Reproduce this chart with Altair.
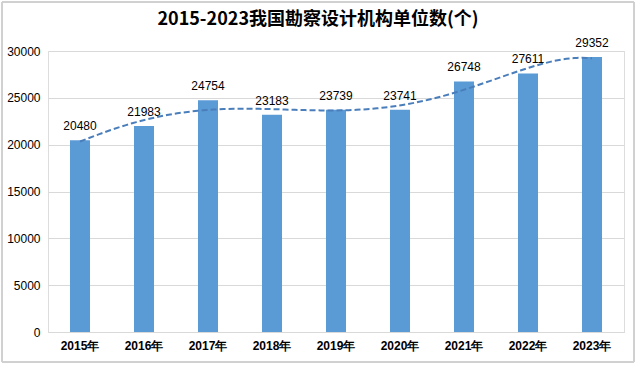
import altair as alt
import pandas as pd

years = [2015, 2016, 2017, 2018, 2019, 2020, 2021, 2022, 2023]
labels = ["2015年", "2016年", "2017年", "2018年", "2019年", "2020年", "2021年", "2022年", "2023年"]
values = [20480, 21983, 24754, 23183, 23739, 23741, 26748, 27611, 29352]

df = pd.DataFrame({"year": years, "label": labels, "value": values})

FONT = "Liberation Sans"
W, H = 576, 281
YSCALE = alt.Scale(domain=[0, 30000], nice=False)

xb = alt.X("label:N", sort=labels, title=None,
           scale=alt.Scale(paddingInner=0.69, paddingOuter=0.345),
           axis=alt.Axis(labelAngle=0, domain=True, domainColor="#D9D9D9", ticks=False,
                         labelFont=FONT, labelFontSize=12, labelFontWeight="bold",
                         labelColor="#000000", labelPadding=8))
y = alt.Y("value:Q", title=None, scale=YSCALE,
          axis=alt.Axis(values=[0, 5000, 10000, 15000, 20000, 25000, 30000], format="d",
                        domain=False, ticks=False, grid=True, gridColor="#D9D9D9",
                        labelFont=FONT, labelFontSize=12, labelColor="#000000",
                        labelPadding=8))

bars = alt.Chart(df).mark_bar(color="#5B9BD5", size=20).encode(x=xb, y=y)
text = alt.Chart(df).mark_text(baseline="bottom", dy=-7, font=FONT, fontSize=12,
                               color="#000000").encode(
    x=alt.X("label:N", sort=labels), y=alt.Y("value:Q", scale=YSCALE), text="value:Q")

border = alt.Chart(df).mark_rect(fill=None, stroke="#D0D0D0", strokeWidth=1).encode(
    x=alt.value(-46), x2=alt.value(W + 10), y=alt.value(-49), y2=alt.value(H + 30))

base = alt.layer(bars, text, border)

trend = alt.Chart(df).transform_regression(
    "year", "value", method="poly", order=5, extent=[2015, 2023]
).mark_line(color="#4A7EBB", strokeWidth=2, strokeDash=[6, 3]).encode(
    x=alt.X("year:Q", scale=alt.Scale(domain=[2014.5, 2023.5], nice=False, zero=False), axis=None),
    y=alt.Y("value:Q", scale=YSCALE))

chart = alt.layer(base, trend).resolve_scale(x="independent").properties(
    width=W, height=H,
    title=alt.TitleParams("2015-2023我国勘察设计机构单位数(个)", font="Noto Sans CJK SC",
                          fontSize=18, fontWeight="bold", color="#000000", offset=-27, dx=-18),
    autosize=alt.AutoSizeParams(type="none"),
    padding={"left": 48, "top": 51, "right": 13, "bottom": 34},
).configure_view(stroke=None).configure(background="white")

chart.save("out.html", embed_options={"renderer": "svg", "actions": False})
